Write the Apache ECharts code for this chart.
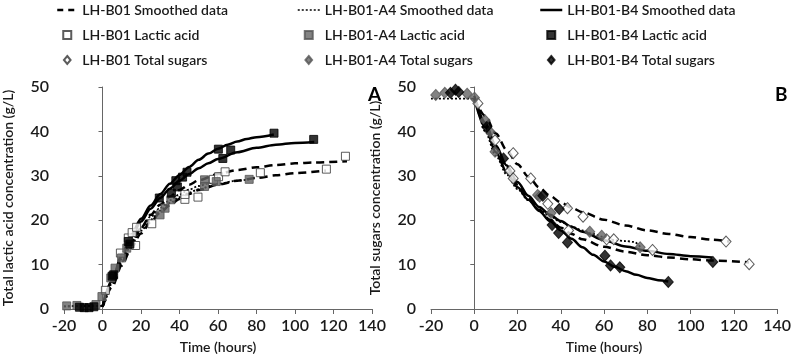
<!DOCTYPE html>
<html lang="en">
<head>
    <meta charset="UTF-8">
    <title>Lactic acid and total sugars</title>
    <script src="https://cdn.jsdelivr.net/npm/echarts@6/dist/echarts.min.js"></script>
</head>
<body style="margin:0">
<div id="main" style="width: 794px;height:360px;"></div>
<script type="text/javascript">
    // axis ticks
    var timeTicks = [-20, 0, 20, 40, 60, 80, 100, 120, 140];
    var concTicks = [0, 10, 20, 30, 40, 50];

    // panel A: lactic acid (time h, g/L) - measured points
    var laB01 = [[1.5, 4.2], [9.3, 12.6], [13.4, 16.0], [15.4, 17.2], [17.7, 18.4], [17.2, 14.3], [25.6, 19.2],
        [42.8, 24.7], [42.8, 25.8], [49.6, 25.2], [57.6, 29.2], [60.3, 29.8], [63.7, 30.9], [82, 30.7],
        [116.3, 31.5], [126.2, 34.4]];
    var laA4 = [[-18.6, 0.7], [-13.3, 0.8], [-3.4, 1.0], [-0.3, 2.8], [4.3, 7.0], [6.5, 9.2], [9.9, 11.5],
        [12.6, 13.7], [29.9, 21.2], [32.5, 22.7], [35.5, 24.6], [53, 29.1], [53, 27.6], [59.1, 28.7], [76.2, 29.2]];
    var laB4 = [[-12, 0.4], [-9.5, 0.3], [-7, 0.3], [-4.5, 0.5], [5.8, 7.7], [5, 7.4], [13.4, 15.2], [14.2, 14.6],
        [29.5, 25.0], [35.8, 26.1], [38.1, 28.9], [38.9, 27.5], [41.6, 29.7], [43.9, 30.8],
        [60.2, 36.0], [62.5, 33.9], [66.6, 35.8], [89.1, 39.6], [109.7, 38.2]];

    // panel A: smoothed curves
    var laB01Fit1 = [[0, 0.5], [5, 5.5], [10, 10.5], [15, 14.8], [20, 18.3], [25, 21.2], [30, 23.5], [35, 25.3],
        [40, 26.8], [45, 28.0], [50, 29.0], [60, 30.4], [70, 31.3], [80, 31.9], [90, 32.4], [100, 32.8],
        [110, 33.0], [127, 33.3]];
    var laB01Fit2 = [[0, 0.5], [5, 5.0], [10, 9.8], [15, 13.8], [20, 17.0], [25, 19.6], [30, 21.7], [35, 23.4],
        [40, 24.8], [45, 25.9], [50, 26.8], [60, 28.0], [70, 28.9], [80, 29.5], [90, 30.1], [100, 30.6], [116, 31.2]];
    var laA4Fit1 = [[-20, 0.6], [0, 0.7], [5, 6.2], [10, 11.2], [15, 15.2], [20, 18.3], [25, 20.8], [30, 22.8],
        [35, 24.5], [40, 25.8], [45, 26.9], [50, 27.7], [55, 28.3], [59, 28.7]];
    var laA4Fit2 = [[-20, 0.6], [0, 0.7], [5, 5.8], [10, 10.6], [15, 14.5], [20, 17.6], [25, 20.1], [30, 22.2],
        [35, 23.9], [40, 25.2], [45, 26.2], [50, 27.0], [60, 28.2], [70, 28.9], [76, 29.2]];
    var laB4Fit1 = [[0, 0.5], [5, 6.5], [10, 12.3], [15, 16.8], [20, 20.3], [25, 23.3], [30, 25.9], [35, 28.2],
        [40, 30.2], [45, 32.0], [50, 33.6], [55, 35.0], [60, 36.1], [65, 37.0], [70, 37.7], [75, 38.3],
        [80, 38.7], [89, 39.3]];
    var laB4Fit2 = [[0, 0.5], [5, 6.3], [10, 11.8], [15, 16.2], [20, 19.7], [25, 22.6], [30, 25.0], [35, 27.1],
        [40, 28.9], [45, 30.4], [50, 31.7], [55, 32.8], [60, 33.8], [70, 35.3], [80, 36.3], [90, 37.0],
        [100, 37.4], [110, 37.6]];

    // panel B: total sugars (time h, g/L) - measured points
    var tsB01 = [[-2.6, 50.2], [1.7, 46.3], [9.6, 38.0], [16.5, 31.1], [18, 35.1], [18, 29.4], [26.1, 29.4],
        [34, 23.7], [43.1, 22.7], [43.6, 17.7], [50.3, 20.8], [61.2, 15.7], [64.5, 15.7], [82.4, 13.3],
        [116.4, 15.2], [127.1, 10.1]];
    var tsA4 = [[-17.8, 48.2], [-13.6, 48.7], [-3.3, 48.5], [0.1, 47.6], [5, 42.5], [7.3, 39.9], [9.6, 35.4],
        [29.3, 25.7], [30.2, 25.3], [35.5, 21.6], [53.4, 17.4], [58.9, 16.5], [76.7, 13.9]];
    var tsB4 = [[-11, 48.7], [-8.7, 49.4], [-7.2, 48.9], [5.8, 41.0], [13.5, 33.9], [31.7, 25.5], [36, 18.9],
        [39, 17.1], [39.3, 22.5], [43.1, 15.0], [60.4, 12.0], [63, 9.8], [67.3, 9.4], [89.7, 6.1], [110.3, 10.6]];

    // panel B: smoothed curves
    var tsB01Fit1 = [[0, 47.5], [5, 43.5], [10, 39.5], [15, 35.8], [20, 32.6], [25, 29.8], [30, 27.4], [35, 25.5],
        [40, 24.0], [45, 22.8], [50, 21.8], [60, 20.1], [70, 18.8], [80, 17.7], [90, 16.9], [100, 16.2],
        [110, 15.6], [118, 15.2]];
    var tsB01Fit2 = [[0, 47.5], [5, 41.5], [10, 36.3], [15, 31.8], [20, 28.0], [25, 24.9], [30, 22.3], [35, 20.1],
        [40, 18.3], [45, 16.9], [50, 15.7], [60, 14.0], [70, 12.9], [80, 12.1], [90, 11.6], [100, 11.2],
        [110, 10.9], [127, 10.5]];
    var tsA4Fit = [[-20, 47.4], [0, 47.4], [5, 40.0], [10, 34.5], [15, 30.3], [20, 27.0], [25, 24.5], [30, 22.5],
        [35, 20.9], [40, 19.6], [45, 18.6], [50, 17.7], [55, 16.9], [60, 16.2], [65, 15.5], [70, 15.3],
        [74, 15.1], [76.7, 14.0]];
    var tsB4Fit1 = [[0, 47.5], [5, 41.0], [10, 35.3], [15, 30.8], [20, 27.4], [25, 24.6], [30, 22.1], [35, 19.8],
        [40, 17.7], [45, 15.8], [50, 13.9], [55, 12.2], [60, 10.7], [65, 9.5], [70, 8.5], [75, 7.7],
        [80, 7.0], [85, 6.5], [89.7, 6.2]];
    var tsB4Fit2 = [[0, 48.0], [5, 42.0], [10, 36.8], [15, 32.3], [20, 28.6], [25, 25.5], [30, 23.0], [35, 21.2],
        [40, 19.8], [45, 18.5], [50, 17.4], [60, 15.5], [70, 14.1], [80, 13.1], [90, 12.4], [100, 11.9],
        [110, 11.6]];

    var FONT = 'Lato';
    var TXT = '#1a1a1a';
    var GRAY = '#646464';
    var SQUARE = 'path://M0,0H10V10H0Z';
    var DIAMOND = 'path://M5,0L10,6L5,12L0,6Z';
    var DASH = [8, 5], DOT = [2, 2];

    function lineSeries(name, data, type, width, grid) {
        return {
            name: name, type: 'line', data: data,
            xAxisIndex: grid, yAxisIndex: grid,
            smooth: 0.3, smoothMonotone: 'x',
            symbol: 'none', showSymbol: false,
            lineStyle: {color: '#000', width: width, type: type},
            itemStyle: {color: '#000'},
            z: 2, silent: true
        };
    }
    function pointSeries(name, data, shape, fill, border, grid) {
        return {
            name: name, type: 'scatter', data: data,
            xAxisIndex: grid, yAxisIndex: grid,
            symbol: shape, symbolSize: shape === 'diamond' ? [10, 11] : 8,
            itemStyle: {color: fill, borderColor: border, borderWidth: 1},
            z: 3
        };
    }
    function xAxisFor(grid) {
        return {
            type: 'value', gridIndex: grid, min: -20, max: 140, interval: 20,
            name: 'Time (hours)', nameLocation: 'middle', nameGap: 31,
            nameTextStyle: {fontFamily: FONT, fontSize: 14, fontWeight: 600, color: TXT},
            axisLine: {lineStyle: {color: '#666', width: 1}},
            axisTick: {length: 5, lineStyle: {color: '#666'}},
            axisLabel: {fontFamily: FONT, fontSize: 16, fontWeight: 600, color: TXT, margin: 9},
            splitLine: {show: false}
        };
    }
    function yAxisFor(grid, title) {
        return {
            type: 'value', gridIndex: grid, min: 0, max: 50, interval: 10,
            name: title, nameLocation: 'middle', nameGap: 49,
            nameTextStyle: {fontFamily: FONT, fontSize: 14, fontWeight: 600, color: TXT},
            axisLine: {show: true, onZero: true, lineStyle: {color: '#666', width: 1}},
            axisTick: {show: true, length: 4, lineStyle: {color: '#666'}},
            axisLabel: {fontFamily: FONT, fontSize: 16, fontWeight: 600, color: TXT, margin: 15},
            splitLine: {show: false}
        };
    }
    function legendCol(left, width, strain, dash, lineWidth) {
        return {
            orient: 'vertical', left: left, top: 2, padding: 0,
            itemWidth: width, itemHeight: 8, itemGap: 9,
            symbolKeepAspect: true,
            textStyle: {fontFamily: FONT, fontSize: 14, fontWeight: 600, color: TXT, lineHeight: 16},
            selectedMode: false,
            data: [
                {name: strain + ' Smoothed data', itemStyle: {opacity: 0},
                    lineStyle: {color: '#000', width: lineWidth, type: dash}},
                {name: strain + ' Lactic acid', icon: SQUARE},
                {name: strain + ' Total sugars', icon: DIAMOND}
            ]
        };
    }

    var myChart = echarts.init(document.getElementById('main'));

    var option = {
        animation: false,
        backgroundColor: '#fff',
        title: [
            {text: 'A', left: 363, top: 80, textStyle: {fontFamily: FONT, fontSize: 19, fontWeight: 'bold', color: '#000'}},
            {text: 'B', left: 770, top: 80, textStyle: {fontFamily: FONT, fontSize: 19, fontWeight: 'bold', color: '#000'}}
        ],
        legend: [
            legendCol(56, 20, 'LH-B01', [6, 5], 2.5),
            legendCol(297, 22, 'LH-B01-A4', DOT, 1.5),
            legendCol(539, 22, 'LH-B01-B4', 'solid', 2.5)
        ],
        grid: [
            {left: 22, right: 422, top: 87, bottom: 51},
            {left: 431, right: 13, top: 87, bottom: 51}
        ],
        xAxis: [xAxisFor(0), xAxisFor(1)],
        yAxis: [
            yAxisFor(0, 'Total lactic acid concentration (g/L)'),
            yAxisFor(1, 'Total sugars concentration (g/L)')
        ],
        series: [
            lineSeries('LH-B01 Smoothed data', laB01Fit1, DASH, 2.5, 0),
            lineSeries('LH-B01 Smoothed data', laB01Fit2, DASH, 2.5, 0),
            lineSeries('LH-B01-A4 Smoothed data', laA4Fit1, DOT, 1.8, 0),
            lineSeries('LH-B01-A4 Smoothed data', laA4Fit2, DOT, 1.8, 0),
            lineSeries('LH-B01-B4 Smoothed data', laB4Fit1, 'solid', 2.5, 0),
            lineSeries('LH-B01-B4 Smoothed data', laB4Fit2, 'solid', 2.5, 0),
            lineSeries('LH-B01 Smoothed data', tsB01Fit1, DASH, 2.5, 1),
            lineSeries('LH-B01 Smoothed data', tsB01Fit2, DASH, 2.5, 1),
            lineSeries('LH-B01-A4 Smoothed data', tsA4Fit, DOT, 1.8, 1),
            lineSeries('LH-B01-B4 Smoothed data', tsB4Fit1, 'solid', 2.5, 1),
            lineSeries('LH-B01-B4 Smoothed data', tsB4Fit2, 'solid', 2.5, 1),
            pointSeries('LH-B01 Lactic acid', laB01, 'rect', '#fff', '#333', 0),
            pointSeries('LH-B01-A4 Lactic acid', laA4, 'rect', GRAY, '#555', 0),
            pointSeries('LH-B01-B4 Lactic acid', laB4, 'rect', '#000', '#000', 0),
            pointSeries('LH-B01 Total sugars', tsB01, 'diamond', '#fff', '#333', 1),
            pointSeries('LH-B01-A4 Total sugars', tsA4, 'diamond', GRAY, '#555', 1),
            pointSeries('LH-B01-B4 Total sugars', tsB4, 'diamond', '#000', '#000', 1)
        ]
    };
    myChart.setOption(option);
</script>
</body>
</html>
